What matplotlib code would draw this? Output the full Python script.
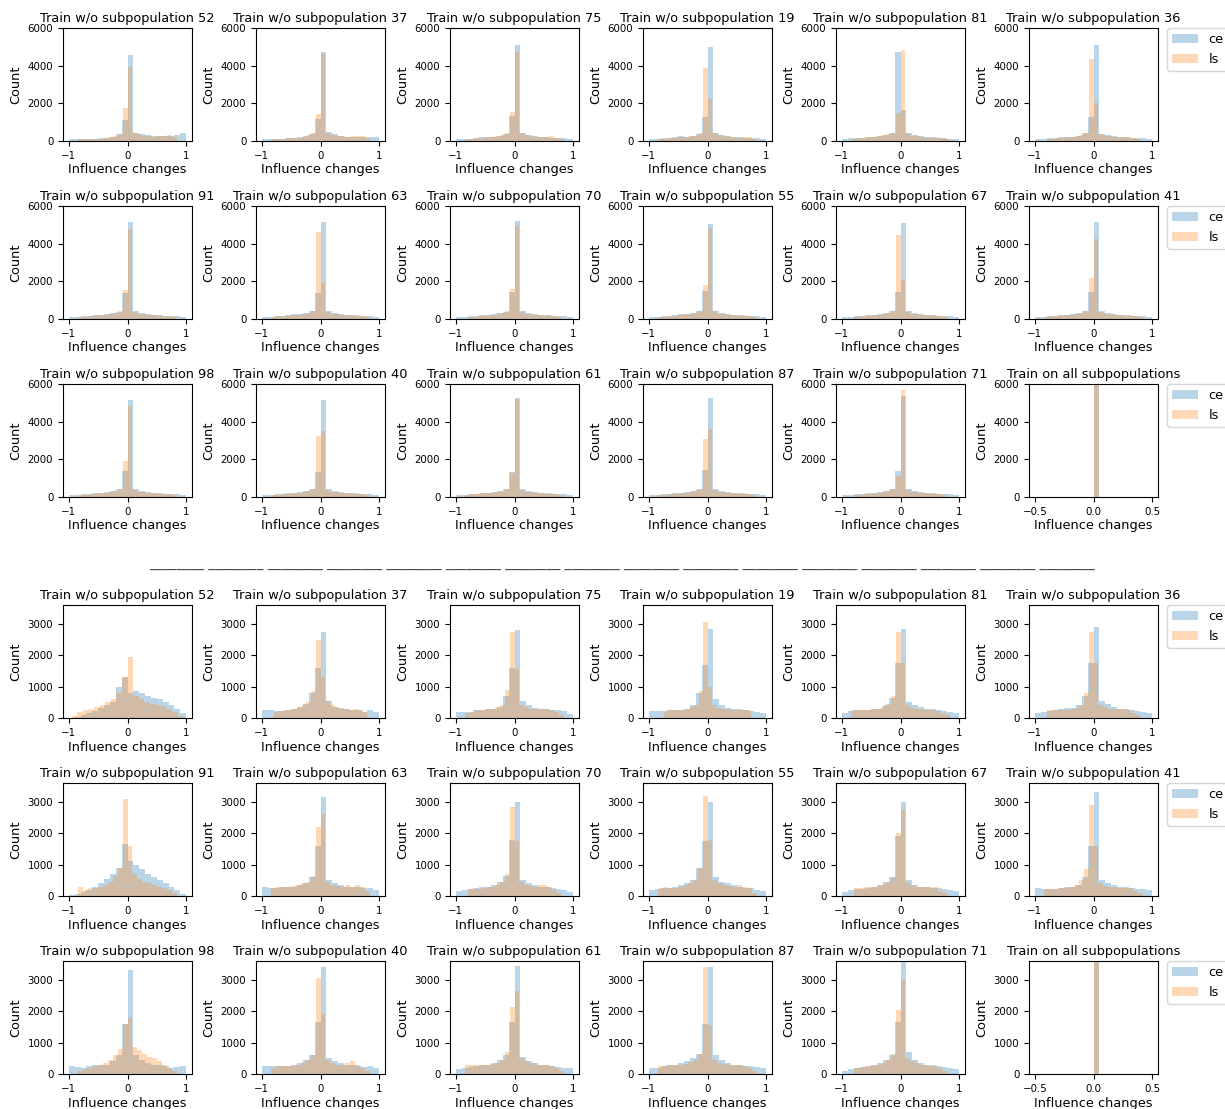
import numpy as np
import matplotlib.pyplot as plt

# subpopulation held out in each panel (same order in both halves)
subpops = [52, 37, 75, 19, 81, 36, 91, 63, 70, 55, 67, 41, 98, 40, 61, 87, 71, None]

# ---- top half: counts per bin (20 bins), ce over [-1, 1], ls over [-r, r]
ce_top = [
    [130,130,130,130,130,150,180,220,350,1100,4550,450,380,320,270,250,240,250,330,400],
    [80,120,120,130,140,160,200,260,350,1150,4700,500,350,270,230,220,220,230,220,220],
    [120,120,130,150,200,230,200,250,380,1350,5100,420,300,250,230,200,180,160,150,130],
    [130,130,150,170,220,250,220,250,350,1250,5000,450,320,270,230,200,180,160,140,130],
    [130,140,150,180,200,230,280,320,400,4750,1650,450,320,270,220,200,170,150,130,120],
    [130,130,150,170,190,200,220,260,400,1250,5100,380,300,250,220,200,180,150,140,130],
    [120,120,140,170,200,230,260,300,380,1400,5150,400,300,250,220,200,180,150,140,130],
    [110,120,150,180,210,240,270,330,420,1400,5150,450,330,260,220,200,180,160,150,120],
    [120,130,150,170,200,230,260,300,380,1450,5200,400,320,260,220,200,180,160,140,120],
    [130,130,150,180,200,240,270,320,400,1500,5050,420,320,260,220,200,180,160,140,130],
    [120,130,150,170,200,230,270,320,400,1450,5100,420,320,260,220,200,170,150,140,120],
    [120,130,150,170,200,230,260,300,400,1450,5150,400,300,250,220,200,180,150,140,120],
    [120,130,150,170,200,230,260,300,400,1400,5150,400,300,250,220,200,180,160,150,130],
    [120,130,150,170,200,230,260,300,400,1350,5150,420,320,260,220,200,180,160,150,130],
    [100,130,150,170,200,230,260,300,400,1350,5250,420,320,260,220,200,180,160,150,120],
    [120,130,150,170,200,230,260,300,400,1450,5250,420,320,260,220,200,180,160,150,130],
    [100,130,150,170,200,230,260,300,400,1400,5350,420,320,260,220,200,180,160,150,120],
    [0,0,0,0,0,0,0,0,0,0,10000,0,0,0,0,0,0,0,0,0],
]
ls_top = [
    [80,110,120,120,130,170,200,260,380,1750,3950,450,350,280,250,230,250,260,330,200],
    [100,120,130,140,150,180,220,300,400,1450,4600,450,320,260,240,230,240,260,280,150],
    [100,120,140,160,200,220,250,300,400,1550,4750,430,300,250,220,200,200,260,150,100],
    [110,130,160,180,200,230,250,280,400,3850,2250,400,300,260,230,200,180,200,220,120],
    [120,150,170,190,220,260,300,350,420,1500,4850,400,280,240,200,180,170,200,150,100],
    [100,130,150,170,200,220,250,300,420,4350,2000,350,270,240,220,200,190,200,180,90],
    [100,120,140,160,200,230,260,300,400,1550,4800,380,280,240,210,190,170,180,150,80],
    [120,170,150,170,200,230,260,300,400,4600,1900,380,280,240,210,190,180,190,170,90],
    [100,120,150,170,200,230,260,300,400,1600,4950,380,280,240,210,190,180,200,180,80],
    [110,120,150,170,200,240,270,310,420,1800,4850,400,290,240,210,190,180,190,160,90],
    [120,150,170,180,200,230,260,300,400,4450,2050,380,280,240,210,190,180,200,180,90],
    [130,180,170,180,200,220,250,300,400,2200,4250,380,280,240,210,190,180,190,180,90],
    [110,130,150,170,200,230,260,300,400,1900,4850,380,280,240,210,190,180,180,160,80],
    [110,130,150,170,200,230,260,300,400,3250,3500,380,280,240,210,190,180,200,180,90],
    [120,160,180,190,200,230,260,300,400,1250,5200,380,280,240,210,190,180,220,160,80],
    [110,130,150,170,200,230,260,300,400,3100,3600,380,280,240,210,190,180,190,170,90],
    [110,130,150,170,200,230,260,300,400,1100,5700,380,280,240,210,190,180,200,160,80],
    [0,0,0,0,0,0,0,0,0,0,10000,0,0,0,0,0,0,0,0,0],
]
ls_r_top = [0.85, 0.85, 0.85, 0.85, 0.85, 0.8, 0.85, 0.85, 0.8, 0.85,
            0.8, 0.85, 0.85, 0.85, 0.85, 0.85, 0.8, 0.5]
yticks_top = [0, 2000, 4000, 6000]

# ---- bottom half
ce_bot = [
    [10,30,80,150,230,330,430,520,1000,1300,800,850,800,700,650,600,500,400,300,150],
    [250,250,220,230,250,300,350,450,800,1600,2750,550,350,330,300,270,270,200,250,200],
    [200,200,200,250,250,300,300,350,700,1600,2800,550,400,330,300,280,250,250,220,130],
    [220,220,220,240,250,270,300,400,800,1700,2850,600,400,330,300,280,250,220,200,150],
    [150,230,250,250,250,280,300,400,650,1750,2850,500,400,350,300,280,250,220,180,150],
    [150,200,230,250,300,320,330,400,700,1750,2900,550,450,350,300,280,250,230,200,150],
    [20,60,120,200,300,400,550,700,900,1650,1100,1000,850,700,600,500,400,300,200,50],
    [300,250,250,280,300,300,350,400,600,1600,3150,500,400,350,300,300,300,250,250,200],
    [150,200,220,250,280,300,350,450,650,1800,3000,500,400,350,300,280,250,220,180,130],
    [200,230,250,270,300,350,400,500,900,1750,3000,600,450,400,350,300,270,250,200,150],
    [120,200,220,230,250,300,350,450,600,1900,3000,500,350,300,280,260,250,230,200,150],
    [250,230,230,230,250,280,300,350,600,1600,3300,500,400,350,300,280,250,220,230,200],
    [250,230,200,250,280,300,300,400,600,1600,3300,600,450,350,300,300,250,200,220,250],
    [250,250,250,250,270,300,350,450,600,1650,3400,500,400,350,300,280,250,230,250,200],
    [150,200,220,250,280,300,350,450,600,1650,3450,550,400,350,300,280,250,220,200,180],
    [200,200,250,280,300,350,400,500,650,1600,3400,600,450,350,300,300,270,250,220,200],
    [100,150,200,220,250,300,350,450,600,1650,3700,700,450,350,300,280,250,230,200,150],
    [0,0,0,0,0,0,0,0,0,0,10000,0,0,0,0,0,0,0,0,0],
]
ls_bot = [
    [50,200,250,280,350,420,500,600,800,1300,1950,700,600,500,450,400,380,300,200,50],
    [200,220,250,250,300,350,400,500,850,2500,1300,550,400,350,300,280,270,300,250,200],
    [150,200,250,250,280,300,350,400,900,2750,1550,400,350,300,300,300,300,250,200,100],
    [200,250,250,250,270,300,350,400,850,3050,1000,400,330,300,280,260,250,250,250,240],
    [250,270,260,260,280,300,350,450,700,2750,1750,400,320,300,280,270,260,220,150,80],
    [250,250,250,250,260,280,320,400,800,2750,1750,400,350,300,280,300,280,250,150,100],
    [300,200,250,250,300,350,450,650,900,3100,1600,700,550,450,400,350,300,250,200,100],
    [250,300,300,300,320,350,400,450,650,2200,2600,450,350,320,300,350,300,350,300,150],
    [220,220,230,250,280,300,350,450,700,2850,1750,450,350,320,300,350,350,300,200,100],
    [250,300,250,270,300,350,400,500,900,3200,1800,500,400,350,320,300,350,300,250,100],
    [250,250,280,280,300,330,380,450,600,2000,2750,450,350,300,280,300,300,280,150,100],
    [230,230,230,250,270,300,350,500,850,2900,1600,400,320,300,280,260,250,250,150,80],
    [100,150,200,250,300,350,450,600,800,1600,1800,850,750,650,550,500,400,300,200,100],
    [200,250,250,250,270,300,350,450,600,3050,1900,450,350,300,300,350,400,300,200,100],
    [300,300,280,280,300,320,350,450,700,2150,2650,500,400,350,300,300,300,250,200,100],
    [250,250,280,300,300,330,380,450,650,3400,1550,450,350,330,300,300,300,250,200,100],
    [200,200,220,250,280,300,350,450,650,2050,3000,500,400,350,300,300,250,250,200,100],
    [0,0,0,0,0,0,0,0,0,0,10000,0,0,0,0,0,0,0,0,0],
]
ls_r_bot = [0.95, 0.8, 0.85, 0.75, 0.85, 0.8, 0.85, 0.85, 0.8, 0.85,
            0.8, 0.85, 0.85, 0.85, 0.85, 0.85, 0.8, 0.5]
yticks_bot = [0, 1000, 2000, 3000]

# figure layout (pixels)
fig = plt.figure(figsize=(12.25, 11.09), dpi=100)
FW, FH = 1225, 1109
col_left = [63, 256, 450, 643, 836, 1029]
row_top = [28, 206, 384, 605, 783, 961]
AW, AH = 129, 113
FS = 9.3


def draw_hist(ax, ce, ls, r):
    ce_rng = (-r, r) if r == 0.5 else (-1, 1)
    ce_edges = np.linspace(ce_rng[0], ce_rng[1], 21)
    ls_edges = np.linspace(-r, r, 21)
    ax.hist(ce_edges[:-1], bins=ce_edges, weights=ce, alpha=0.3, label='ce')
    ax.hist(ls_edges[:-1], bins=ls_edges, weights=ls, alpha=0.3, label='ls')


halves = [(ce_top, ls_top, ls_r_top, 6000, yticks_top),
          (ce_bot, ls_bot, ls_r_bot, 3600, yticks_bot)]
for h, (ce_all, ls_all, rr, ymax, yt) in enumerate(halves):
    for k in range(18):
        row, col = divmod(k, 6)
        top = row_top[h * 3 + row]
        ax = fig.add_axes([col_left[col] / FW, 1 - (top + AH) / FH, AW / FW, AH / FH])
        draw_hist(ax, ce_all[k], ls_all[k], rr[k])
        ax.set_ylim(0, ymax)
        ax.set_yticks(yt)
        if subpops[k] is None:
            ax.set_title('Train on all subpopulations', fontsize=FS, pad=4.5)
        else:
            ax.set_title(f'Train w/o subpopulation {subpops[k]}', fontsize=FS, pad=4.5)
        ax.set_xlabel('Influence changes', fontsize=FS, labelpad=2)
        ax.set_ylabel('Count', fontsize=FS)
        ax.tick_params(labelsize=7.4)
        if col == 5:
            ax.legend(loc='upper left', bbox_to_anchor=(1.07, 1.0),
                      borderaxespad=0, fontsize=FS)

# separator between the two halves
fig.text(0.508, 1 - 570 / FH, ' '.join(['________'] * 16),
         ha='center', va='bottom', fontsize=9.8, color='#444444')

fig.savefig('out.png', dpi=100)
